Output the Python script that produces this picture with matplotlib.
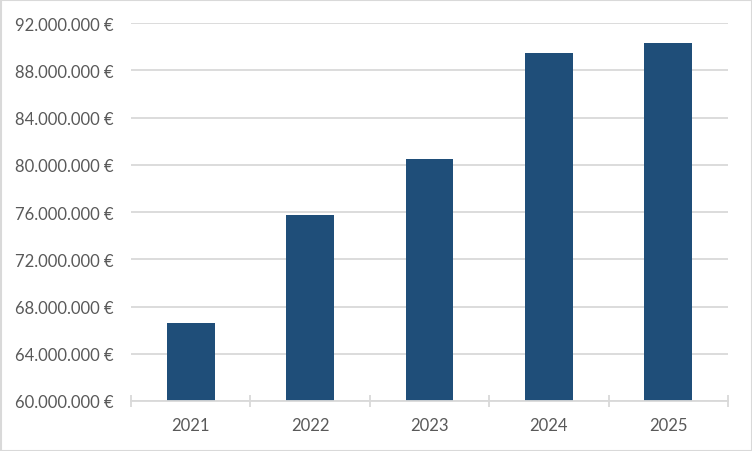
import matplotlib
matplotlib.use("Agg")
import matplotlib.pyplot as plt
from matplotlib.ticker import FuncFormatter, MultipleLocator, FixedLocator
from matplotlib.patches import Rectangle

years = ["2021", "2022", "2023", "2024", "2025"]
values = [66_600_000, 75_750_000, 80_500_000, 89_450_000, 90_300_000]

plt.rcParams['font.family'] = ['Lato', 'DejaVu Sans']

fig = plt.figure(figsize=(7.52, 4.52), dpi=100)
ax = fig.add_axes([131/752, 1-402/452, (728-131)/752, (402-24)/452])

x = list(range(len(years)))
ax.bar(x, values, width=0.4, color="#1F4E79", zorder=3)

ax.set_xlim(-0.5, len(years) - 0.5)
ax.set_ylim(60_000_000, 92_000_000)
ax.yaxis.set_major_locator(MultipleLocator(4_000_000))

def fmt(v, pos):
    return f"{int(round(v)):,}".replace(",", ".") + " €"
ax.yaxis.set_major_formatter(FuncFormatter(fmt))

ax.set_xticks(x)
ax.set_xticklabels(years)
ax.xaxis.set_minor_locator(FixedLocator([i - 0.5 for i in range(len(years) + 1)]))

ax.grid(axis="y", color="#D9D9D9", linewidth=1.3, zorder=0)
for s in ["top", "right", "left"]:
    ax.spines[s].set_visible(False)
ax.spines["bottom"].set_color("#D9D9D9")
ax.spines["bottom"].set_linewidth(1.3)
ax.spines["bottom"].set_zorder(4)

ax.tick_params(axis="y", length=0, pad=12.5, labelsize=12, labelcolor="#595959")
ax.tick_params(axis="x", which="major", length=0, pad=11.5, labelsize=12, labelcolor="#595959")
ax.tick_params(axis="x", which="minor", length=8, direction="inout", color="#D9D9D9", width=1.3)

fig.patches.append(Rectangle((0.5/752, 0.5/452), 1-1/752, 1-1/452, transform=fig.transFigure,
                             fill=False, edgecolor="#D9D9D9", linewidth=1.5))

fig.savefig("out.png", dpi=100, facecolor="white")
